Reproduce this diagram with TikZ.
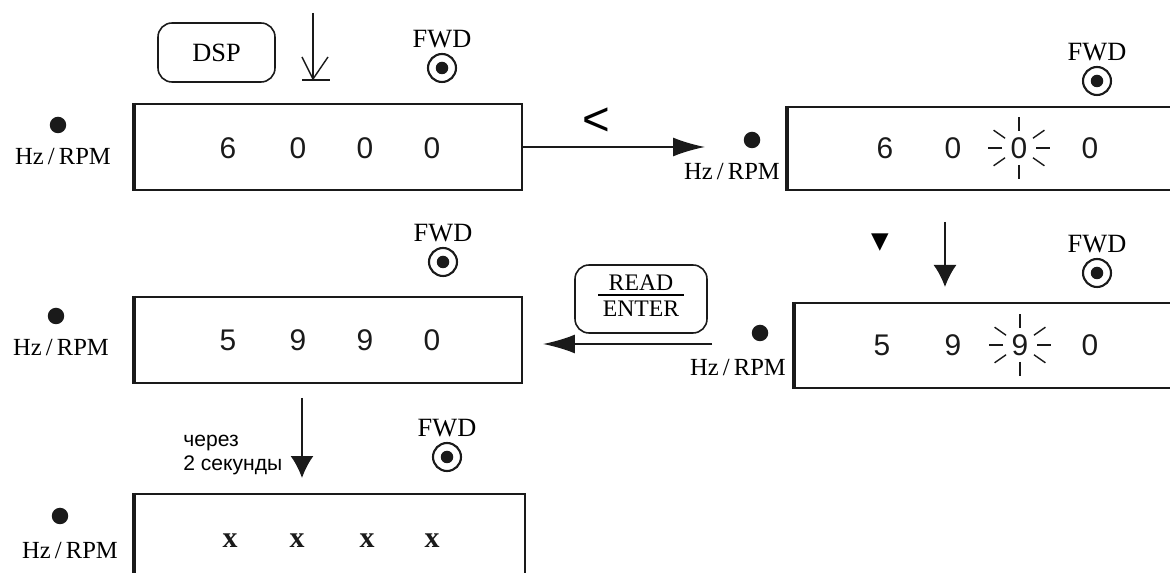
\documentclass[tikz,border=0pt]{standalone}
\usepackage{fontspec}
\usepackage{xcolor}
\usetikzlibrary{arrows.meta,positioning}
\newfontfamily\panelserif{Liberation Serif}
\newfontfamily\panelsans{Liberation Sans}
\newfontfamily\panelsym{DejaVu Sans}
\definecolor{PanelInk}{HTML}{1A1A1A}
\tikzset{
  display/.style={
    draw=PanelInk,
    line width=1.2pt,
    inner sep=0pt,
    minimum width=7.74cm,
    minimum height=1.72cm
  },
  digit/.style={font=\panelsans\fontsize{17}{17}\selectfont,inner sep=0pt,text=PanelInk},
  xdigit/.style={font=\panelserif\bfseries\fontsize{17}{17}\selectfont,inner sep=0pt,text=PanelInk},
  hzdot/.style={circle,fill=PanelInk,inner sep=0pt,minimum size=0.33cm},
  hzlabel/.style={font=\panelserif\fontsize{14}{14}\selectfont,inner sep=0pt},
  fwdlabel/.style={font=\panelserif\fontsize{15}{15}\selectfont,inner sep=0pt},
  fwdring/.style={circle,draw=PanelInk,line width=1.2pt,inner sep=0pt,minimum size=0.56cm},
  fwddot/.style={circle,fill=PanelInk,inner sep=0pt,minimum size=0.25cm},
  keybox/.style={
    draw=PanelInk,
    line width=0.9pt,
    rounded corners=0.28cm,
    inner sep=0pt,
    align=center,
    font=\panelserif\fontsize{13.5}{13.5}\selectfont
  },
  ray/.style={line width=0.8pt,draw=PanelInk},
  flowarrow/.style={-{Latex[length=0.64cm,width=0.38cm]},line width=1pt,draw=PanelInk},
  downarrow/.style={-{Latex[length=0.44cm,width=0.46cm]},line width=1pt,draw=PanelInk}
}

\begin{document}
\begin{tikzpicture}[x=0.02cm,y=-0.02cm]
    \useasboundingbox (0,0) rectangle (1170,573);
    \clip (0,0) rectangle (1170,573);

    \node[display] (disp1) at (328.5,147) {};
    \node[display,minimum width=7.84cm,minimum height=1.66cm] (disp2) at (984,148.5) {};
    \node[display] (disp3) at (328.5,340) {};
    \node[display,minimum width=7.7cm,minimum height=1.7cm] (disp4) at (987.5,345.5) {};
    \node[display,minimum width=7.8cm,minimum height=2.16cm] (disp5) at (330,548) {};
    \foreach \n in {disp1,disp2,disp3,disp4,disp5}
      \draw[line width=2.6pt,draw=PanelInk] (\n.north west) -- (\n.south west);

    \foreach \x/\d in {228/6,298/0,365/0,432/0}
      \node[digit] (a\x) at (\x,148) {\d};
    \foreach \x/\d in {885/6,953/0,1090/0}
      \node[digit] (b\x) at (\x,148) {\d};
    \node[digit] (blink2) at (1019,148) {0};
    \foreach \x/\d in {228/5,298/9,365/9,432/0}
      \node[digit] (c\x) at (\x,340) {\d};
    \foreach \x/\d in {882/5,953/9,1090/0}
      \node[digit] (e\x) at (\x,345) {\d};
    \node[digit] (blink4) at (1020,345) {9};
    \foreach \x in {230,297,367,432}
      \node[xdigit] (f\x) at (\x,541) {x};

    \foreach \a in {0,35,90,145,180,215,270,325}{
      \draw[ray] (blink2.center) ++(\a:17) -- ++(\a:14);
      \draw[ray] (blink4.center) ++(\a:17) -- ++(\a:14);
    }

    \node[hzdot] (hzdot1) at (58,125) {};
    \node[hzlabel] (hz1) at (63,157) {Hz\,/\,RPM};
    \node[hzdot] (hzdot2) at (752,140) {};
    \node[hzlabel] (hz2) at (732,172) {Hz\,/\,RPM};
    \node[hzdot] (hzdot3) at (56,316) {};
    \node[hzlabel] (hz3) at (61,348) {Hz\,/\,RPM};
    \node[hzdot] (hzdot4) at (760,333) {};
    \node[hzlabel] (hz4) at (738,368) {Hz\,/\,RPM};
    \node[hzdot] (hzdot5) at (60,516) {};
    \node[hzlabel] (hz5) at (70,551) {Hz\,/\,RPM};

    \node[fwdring] (ring1) at (442,68) {};
    \node[fwdring] (ring2) at (1097,81) {};
    \node[fwdring] (ring3) at (443,262) {};
    \node[fwdring] (ring4) at (1097,273) {};
    \node[fwdring] (ring5) at (447,457) {};
    \foreach \i in {1,...,5}{
      \node[fwddot] (ringdot\i) at (ring\i) {};
      \node[fwdlabel,above=0.1cm of ring\i] (fwd\i) {FWD};
    }

    \node[keybox,minimum width=2.34cm,minimum height=1.18cm,font=\panelserif\fontsize{15}{15}\selectfont] (dspkey) at (216.5,52.5) {DSP};
    \node[keybox,minimum width=2.64cm,minimum height=1.36cm] (readkey) at (641,299)
      {\setlength{\tabcolsep}{2.5pt}\setlength{\arrayrulewidth}{0.8pt}%
       \begin{tabular}{c}READ\\[-2pt]\hline\rule{0pt}{12pt}ENTER\end{tabular}};
    \node[font=\panelsans\fontsize{27}{27}\selectfont,inner sep=0pt] (leftkey) at (596,122) {<};
    \node[font=\panelsym\fontsize{13}{13}\selectfont,inner sep=0pt] (downkey) at (880,243) {▼};
    \node[font=\panelsans\fontsize{12}{13.7}\selectfont,align=left,inner sep=0pt,anchor=west] (waitnote) at (183,455) {через\\2 секунды};

    \coordinate (dspfrom) at (313,13);
    \coordinate (dspto) at (313,79);
    \coordinate (shiftto) at (705,147);
    \coordinate (enterfrom) at (712,344);
    \coordinate (enterto) at (543,344);
    \coordinate (downfrom) at (945,222);
    \coordinate (downto) at (945,287);
    \coordinate (waitfrom) at (302,398);
    \coordinate (waitto) at (302,478);

    \draw[line width=0.8pt,draw=PanelInk] (dspfrom) -- (dspto);
    \draw[line width=0.8pt,draw=PanelInk] ([shift={(-11,-22)}]dspto) -- (dspto) -- ([shift={(15,-22)}]dspto);
    \draw[line width=1pt,draw=PanelInk] ([shift={(-11,1)}]dspto) -- ([shift={(17,1)}]dspto);
    \draw[flowarrow] (disp1.east) -- (shiftto);
    \draw[flowarrow] (enterfrom) -- (enterto);
    \draw[downarrow] (downfrom) -- (downto);
    \draw[downarrow] (waitfrom) -- (waitto);
  \end{tikzpicture}
\end{document}
